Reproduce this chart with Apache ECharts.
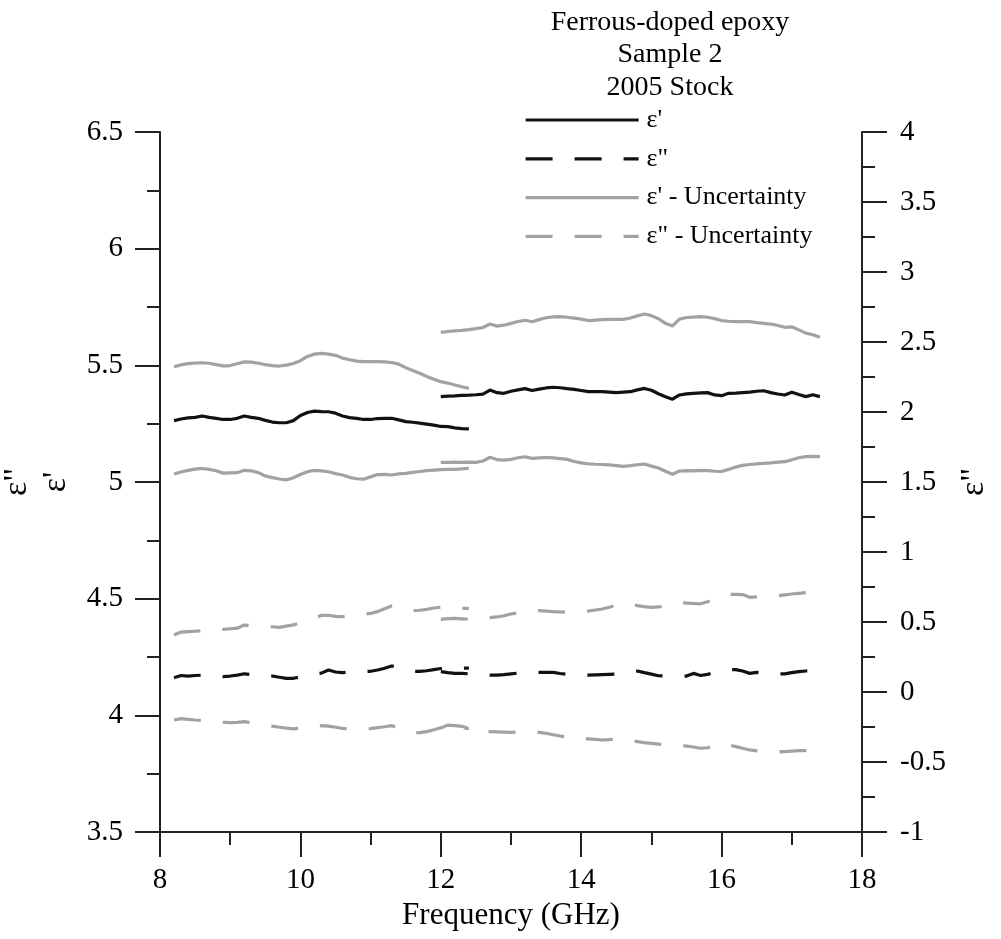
<!DOCTYPE html>
<html>
<head>
<meta charset="utf-8">
<script src="https://cdn.jsdelivr.net/npm/echarts@6/dist/echarts.min.js"></script>
<style>
  html, body { margin: 0; padding: 0; background: #fff; }
  #chart { width: 1001px; height: 939px; }
</style>
</head>
<body>
<div id="chart"></div>
<script>
// Frequency grids (GHz) of the two waveguide bands
const freqX = [8.2, 8.3, 8.4, 8.5, 8.6, 8.7, 8.8, 8.9, 9.0, 9.1, 9.2, 9.3, 9.4, 9.5, 9.6, 9.7, 9.8, 9.9,
  10.0, 10.1, 10.2, 10.3, 10.4, 10.5, 10.6, 10.7, 10.8, 10.9, 11.0, 11.1, 11.2, 11.3, 11.4, 11.5, 11.6,
  11.7, 11.8, 11.9, 12.0, 12.1, 12.2, 12.3, 12.4];
const freqKu = [12.0, 12.1, 12.2, 12.3, 12.4, 12.5, 12.6, 12.7, 12.8, 12.9, 13.0, 13.1, 13.2, 13.3, 13.4,
  13.5, 13.6, 13.7, 13.8, 13.9, 14.0, 14.1, 14.2, 14.3, 14.4, 14.5, 14.6, 14.7, 14.8, 14.9, 15.0, 15.1,
  15.2, 15.3, 15.4, 15.5, 15.6, 15.7, 15.8, 15.9, 16.0, 16.1, 16.2, 16.3, 16.4, 16.5, 16.6, 16.7, 16.8,
  16.9, 17.0, 17.1, 17.2, 17.3, 17.4];

// Real permittivity ε' (left axis)
const epsRealX = [5.263, 5.270, 5.275, 5.277, 5.283, 5.277, 5.273, 5.268, 5.268, 5.273, 5.283, 5.277,
  5.273, 5.264, 5.257, 5.254, 5.254, 5.263, 5.285, 5.298, 5.304, 5.302, 5.301, 5.295, 5.283, 5.276,
  5.273, 5.268, 5.268, 5.272, 5.273, 5.273, 5.266, 5.259, 5.256, 5.252, 5.248, 5.244, 5.238, 5.237,
  5.232, 5.229, 5.228];
const epsRealKu = [5.366, 5.368, 5.369, 5.371, 5.372, 5.374, 5.377, 5.394, 5.383, 5.380, 5.389, 5.395,
  5.400, 5.392, 5.398, 5.403, 5.406, 5.404, 5.400, 5.397, 5.392, 5.387, 5.387, 5.387, 5.385, 5.383,
  5.385, 5.387, 5.395, 5.401, 5.393, 5.378, 5.365, 5.355, 5.373, 5.378, 5.380, 5.382, 5.383, 5.373,
  5.370, 5.380, 5.381, 5.383, 5.385, 5.389, 5.391, 5.383, 5.377, 5.373, 5.385, 5.375, 5.366, 5.374,
  5.366];

// ε' uncertainty bounds
const epsRealUpX = [5.494, 5.502, 5.507, 5.510, 5.511, 5.509, 5.503, 5.498, 5.499, 5.507, 5.515, 5.514,
  5.509, 5.503, 5.499, 5.497, 5.501, 5.508, 5.520, 5.538, 5.548, 5.551, 5.548, 5.543, 5.531, 5.524,
  5.518, 5.516, 5.516, 5.516, 5.515, 5.512, 5.505, 5.490, 5.478, 5.466, 5.452, 5.440, 5.430, 5.424,
  5.416, 5.408, 5.401];
const epsRealLoX = [5.034, 5.043, 5.050, 5.055, 5.058, 5.054, 5.048, 5.038, 5.039, 5.040, 5.050, 5.048,
  5.040, 5.026, 5.019, 5.013, 5.009, 5.018, 5.032, 5.044, 5.050, 5.048, 5.044, 5.036, 5.030, 5.020,
  5.014, 5.012, 5.022, 5.032, 5.033, 5.030, 5.035, 5.037, 5.041, 5.045, 5.049, 5.051, 5.053, 5.054,
  5.054, 5.056, 5.059];
const epsRealUpKu = [5.641, 5.645, 5.648, 5.650, 5.653, 5.657, 5.662, 5.677, 5.668, 5.672, 5.680, 5.688,
  5.693, 5.687, 5.696, 5.704, 5.708, 5.709, 5.706, 5.702, 5.698, 5.692, 5.694, 5.696, 5.697, 5.697,
  5.697, 5.703, 5.712, 5.720, 5.713, 5.700, 5.680, 5.669, 5.698, 5.705, 5.707, 5.709, 5.706, 5.700,
  5.692, 5.689, 5.687, 5.687, 5.687, 5.683, 5.680, 5.677, 5.671, 5.663, 5.665, 5.652, 5.638, 5.631,
  5.620];
const epsRealLoKu = [5.084, 5.084, 5.085, 5.084, 5.085, 5.084, 5.090, 5.106, 5.096, 5.094, 5.097, 5.104,
  5.108, 5.101, 5.103, 5.105, 5.103, 5.100, 5.097, 5.088, 5.082, 5.078, 5.076, 5.075, 5.073, 5.070,
  5.067, 5.070, 5.074, 5.077, 5.068, 5.060, 5.046, 5.033, 5.047, 5.049, 5.048, 5.050, 5.049, 5.046,
  5.045, 5.054, 5.064, 5.071, 5.075, 5.078, 5.080, 5.082, 5.085, 5.087, 5.095, 5.104, 5.109, 5.110,
  5.109];

// Imaginary permittivity ε" (right axis)
const epsImagX = [0.102, 0.118, 0.114, 0.118, 0.120, 0.118, 0.112, 0.110, 0.114, 0.121, 0.130, 0.125,
  0.118, 0.112, 0.114, 0.105, 0.097, 0.098, 0.108, 0.120, 0.130, 0.135, 0.157, 0.143, 0.138, 0.142,
  0.145, 0.146, 0.148, 0.157, 0.170, 0.186, 0.175, 0.160, 0.148, 0.147, 0.152, 0.160, 0.168, 0.168,
  0.168, 0.170, 0.170];
const epsImagKu = [0.145, 0.138, 0.133, 0.133, 0.130, 0.126, 0.123, 0.121, 0.121, 0.124, 0.130, 0.135,
  0.138, 0.140, 0.140, 0.140, 0.140, 0.132, 0.126, 0.124, 0.122, 0.121, 0.122, 0.124, 0.126, 0.128,
  0.138, 0.148, 0.150, 0.138, 0.128, 0.116, 0.114, 0.114, 0.114, 0.114, 0.133, 0.118, 0.126, 0.140,
  0.150, 0.160, 0.160, 0.150, 0.133, 0.140, 0.135, 0.132, 0.130, 0.129, 0.138, 0.145, 0.150, 0.152,
  0.152];

// ε" uncertainty bounds
const epsImagUpX = [0.407, 0.428, 0.431, 0.434, 0.438, 0.440, 0.443, 0.447, 0.452, 0.456, 0.478, 0.475,
  0.470, 0.467, 0.466, 0.462, 0.470, 0.479, 0.495, 0.512, 0.526, 0.548, 0.548, 0.540, 0.538, 0.545,
  0.552, 0.555, 0.562, 0.574, 0.595, 0.614, 0.600, 0.588, 0.581, 0.584, 0.590, 0.600, 0.605, 0.602,
  0.600, 0.598, 0.598];
const epsImagLoX = [-0.200, -0.190, -0.195, -0.200, -0.203, -0.207, -0.212, -0.216, -0.219, -0.217,
  -0.212, -0.220, -0.228, -0.236, -0.244, -0.252, -0.258, -0.264, -0.258, -0.254, -0.252, -0.240,
  -0.244, -0.252, -0.260, -0.262, -0.264, -0.264, -0.262, -0.254, -0.248, -0.240, -0.255, -0.270,
  -0.292, -0.290, -0.283, -0.270, -0.255, -0.255, -0.258, -0.260, -0.260];
const epsImagUpKu = [0.519, 0.524, 0.526, 0.523, 0.519, 0.522, 0.528, 0.531, 0.536, 0.545, 0.557, 0.566,
  0.574, 0.578, 0.581, 0.578, 0.574, 0.572, 0.570, 0.569, 0.572, 0.578, 0.586, 0.593, 0.605, 0.620,
  0.633, 0.626, 0.617, 0.610, 0.605, 0.608, 0.610, 0.618, 0.638, 0.635, 0.632, 0.630, 0.645, 0.665,
  0.685, 0.698, 0.698, 0.696, 0.676, 0.680, 0.684, 0.686, 0.688, 0.694, 0.700, 0.705, 0.710, 0.712,
  0.714];
const epsImagLoKu = [-0.258, -0.236, -0.240, -0.245, -0.260, -0.272, -0.280, -0.283, -0.285, -0.287,
  -0.288, -0.286, -0.284, -0.283, -0.289, -0.295, -0.305, -0.314, -0.322, -0.328, -0.331, -0.335,
  -0.339, -0.343, -0.340, -0.335, -0.331, -0.343, -0.355, -0.362, -0.367, -0.372, -0.376, -0.379,
  -0.382, -0.386, -0.393, -0.402, -0.398, -0.385, -0.367, -0.378, -0.390, -0.402, -0.414, -0.420,
  -0.426, -0.431, -0.429, -0.426, -0.422, -0.419, -0.419, -0.420, -0.420];

// Axis ranges and text
const xRange = [8, 18];
const leftRange = [3.5, 6.5];
const rightRange = [-1, 4];
const titleLines = ['Ferrous-doped epoxy', 'Sample 2', '2005 Stock'];
const legendNames = ["ε'", 'ε"', "ε' - Uncertainty", 'ε" - Uncertainty'];

const SERIF = "'Liberation Serif', 'Times New Roman', serif";
const BLACK = '#111111';
const GREY = '#a2a2a2';
const DASH = [27, 22];
const AXIS_COLOR = '#222222';

const zip = (xs, ys) => xs.map((x, i) => [x, ys[i]]);

function lineSeries(name, freqs, values, axisIndex, color, dashed) {
  return {
    name: name,
    type: 'line',
    yAxisIndex: axisIndex,
    data: zip(freqs, values),
    showSymbol: false,
    symbol: 'none',
    silent: true,
    animation: false,
    lineStyle: { color: color, width: 3.2, type: dashed ? DASH : 'solid', cap: 'butt', join: 'round' },
    itemStyle: { color: color },
    z: color === BLACK ? 3 : 2
  };
}

const series = [
  lineSeries(legendNames[0], freqX, epsRealX, 0, BLACK, false),
  lineSeries(legendNames[0], freqKu, epsRealKu, 0, BLACK, false),
  lineSeries(legendNames[1], freqX, epsImagX, 1, BLACK, true),
  lineSeries(legendNames[1], freqKu, epsImagKu, 1, BLACK, true),
  lineSeries(legendNames[2], freqX, epsRealUpX, 0, GREY, false),
  lineSeries(legendNames[2], freqX, epsRealLoX, 0, GREY, false),
  lineSeries(legendNames[2], freqKu, epsRealUpKu, 0, GREY, false),
  lineSeries(legendNames[2], freqKu, epsRealLoKu, 0, GREY, false),
  lineSeries(legendNames[3], freqX, epsImagUpX, 1, GREY, true),
  lineSeries(legendNames[3], freqX, epsImagLoX, 1, GREY, true),
  lineSeries(legendNames[3], freqKu, epsImagUpKu, 1, GREY, true),
  lineSeries(legendNames[3], freqKu, epsImagLoKu, 1, GREY, true)
];

const tickLabel = { color: '#000', fontFamily: SERIF, fontSize: 29 };
const axisLine = { show: true, onZero: false, lineStyle: { color: AXIS_COLOR, width: 2 } };

function valueAxis(range, interval, margin, extra) {
  return Object.assign({
    type: 'value',
    min: range[0],
    max: range[1],
    interval: interval,
    splitLine: { show: false },
    axisLine: axisLine,
    axisTick: { show: true, length: 25, lineStyle: { color: AXIS_COLOR, width: 2 } },
    minorTick: { show: true, splitNumber: 2, length: 13, lineStyle: { color: AXIS_COLOR, width: 2 } },
    minorSplitLine: { show: false },
    axisLabel: Object.assign({ margin: margin }, tickLabel)
  }, extra);
}

const chart = echarts.init(document.getElementById('chart'), null, { renderer: 'canvas' });

chart.setOption({
  animation: false,
  backgroundColor: '#ffffff',
  grid: { left: 160, right: 139, top: 132, bottom: 107, containLabel: false, outerBoundsMode: 'none' },
  legend: {
    orient: 'vertical',
    left: 524,
    top: 107,
    padding: 0,
    itemWidth: 113,
    itemHeight: 14,
    itemGap: 12.8,
    data: legendNames,
    selectedMode: false,
    itemStyle: { opacity: 0 },
    lineStyle: { width: 3.2 },
    textStyle: { color: '#000', fontFamily: SERIF, fontSize: 26, padding: [0, 0, 0, 3] }
  },
  xAxis: valueAxis(xRange, 2, 34, {
    name: 'Frequency (GHz)',
    nameLocation: 'middle',
    nameGap: 67,
    nameTextStyle: { color: '#000', fontFamily: SERIF, fontSize: 31 }
  }),
  yAxis: [
    valueAxis(leftRange, 0.5, 37, {
      position: 'left',
      name: 'ε"\nε\'',
      nameLocation: 'middle',
      nameRotate: 90,
      nameGap: 84,
      nameTextStyle: { color: '#000', fontFamily: SERIF, fontSize: 34, lineHeight: 39 }
    }),
    valueAxis(rightRange, 0.5, 38, {
      position: 'right',
      name: 'ε"',
      nameLocation: 'middle',
      nameRotate: 90,
      nameGap: 94,
      nameTextStyle: { color: '#000', fontFamily: SERIF, fontSize: 34, lineHeight: 34 }
    })
  ],
  series: series
});

// Title block and the short axis overhangs at the lower corners of the frame
const corner0 = chart.convertToPixel({ xAxisIndex: 0, yAxisIndex: 0 }, [xRange[0], leftRange[0]]);
const corner1 = chart.convertToPixel({ xAxisIndex: 0, yAxisIndex: 0 }, [xRange[1], leftRange[0]]);
const axisStroke = { stroke: AXIS_COLOR, lineWidth: 2 };

chart.setOption({
  graphic: [
    {
      type: 'text',
      x: 670,
      y: 6,
      style: {
        text: titleLines.join('\n'),
        align: 'center',
        verticalAlign: 'top',
        fill: '#000',
        font: '28px ' + SERIF,
        lineHeight: 32.5
      }
    },
    {
      type: 'line',
      silent: true,
      shape: { x1: corner0[0] - 20, y1: corner0[1], x2: corner1[0] + 20, y2: corner1[1] },
      style: axisStroke
    },
    {
      type: 'line',
      silent: true,
      shape: { x1: corner0[0], y1: corner0[1], x2: corner0[0], y2: corner0[1] + 14 },
      style: axisStroke
    },
    {
      type: 'line',
      silent: true,
      shape: { x1: corner1[0], y1: corner1[1], x2: corner1[0], y2: corner1[1] + 14 },
      style: axisStroke
    }
  ]
});
</script>
</body>
</html>
